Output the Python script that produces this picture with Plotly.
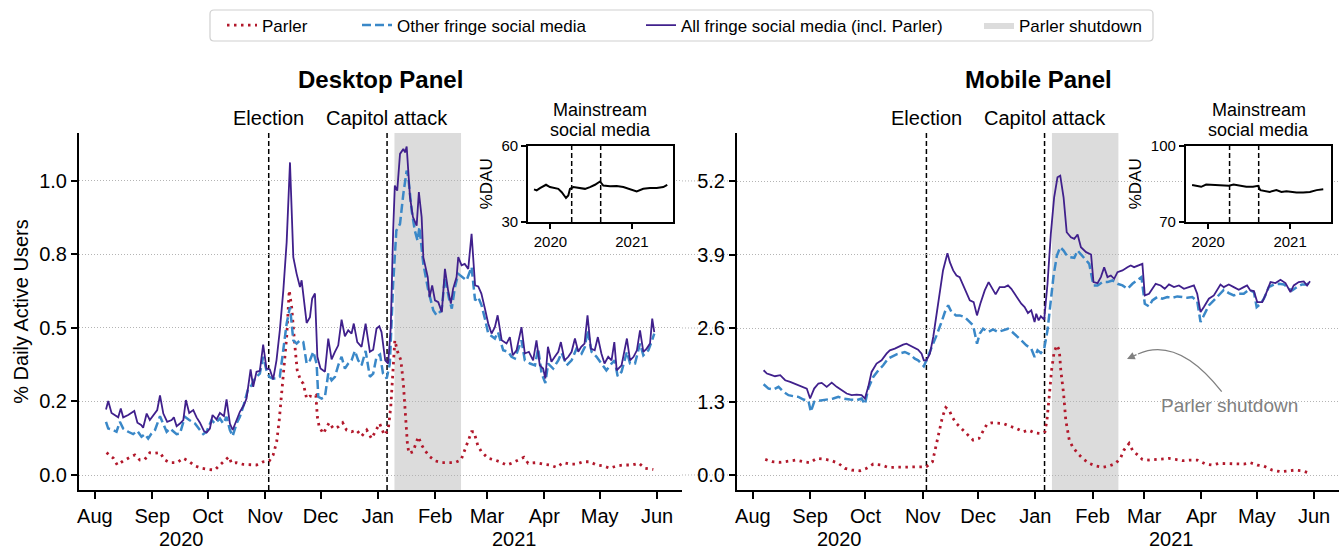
import plotly.graph_objects as go
import pandas as pd

W, H = 1339, 551
BASE = pd.Timestamp("2020-08-01")
FONT = "Liberation Sans, Arial, sans-serif"

# ---------------- data (x = days since 2020-08-01) ----------------
desk_parler_day = [6.3, 10, 12.1, 15.3, 18.6, 21.6, 24.3, 27, 29.7, 32.5, 35.2, 37.9, 40.6, 44.5, 47.8, 50.5,
                   54.1, 57.7, 61.3, 64.9, 67.6, 70.3, 72.5, 73.9, 76.6, 80.2, 83.8, 87.4, 91, 94.3, 96.4, 98.3,
                   99.7, 101, 102.2, 103.7, 105.1, 106.4, 108.2, 109.4, 111.2, 112.7, 114.5, 116.3, 118.1, 119.5,
                   120.3, 121.3, 123.5, 126.7, 128.9, 131.6, 134, 136.1, 138.8, 141.5, 144.2, 147, 149.6, 151.4,
                   154, 156.5, 158.6, 160, 161.3, 162.2, 163.7, 165.5, 166.8, 168, 169, 169.8, 172, 174.9, 176.7,
                   178.5, 181.2, 184, 187.6, 191, 194.7, 198, 199.7, 201.9, 203.7, 205, 207, 209, 212.7, 216.3,
                   219, 222.6, 225.3, 229, 232, 234.3, 238.8, 242.4, 246, 249.7, 253.3, 256.9, 260.5, 264, 267.7,
                   271.3, 274.9, 278.5, 282.2, 285.8, 290.3, 294.2, 297.5, 302]
desk_parler_val = [0.076, 0.057, 0.034, 0.048, 0.059, 0.068, 0.051, 0.053, 0.076, 0.074, 0.076, 0.051, 0.042,
                   0.042, 0.057, 0.048, 0.031, 0.023, 0.019, 0.017, 0.034, 0.048, 0.062, 0.040, 0.042, 0.036,
                   0.034, 0.034, 0.045, 0.048, 0.068, 0.113, 0.187, 0.288, 0.379, 0.469, 0.628, 0.571, 0.436,
                   0.356, 0.322, 0.311, 0.260, 0.268, 0.266, 0.271, 0.198, 0.164, 0.141, 0.178, 0.158, 0.164,
                   0.178, 0.153, 0.147, 0.153, 0.132, 0.153, 0.124, 0.147, 0.175, 0.136, 0.153, 0.232, 0.390,
                   0.458, 0.419, 0.390, 0.311, 0.209, 0.107, 0.074, 0.079, 0.130, 0.102, 0.083, 0.062, 0.048,
                   0.042, 0.042, 0.042, 0.051, 0.079, 0.113, 0.147, 0.147, 0.102, 0.079, 0.057, 0.051, 0.045,
                   0.034, 0.040, 0.051, 0.060, 0.040, 0.042, 0.037, 0.034, 0.026, 0.042, 0.037, 0.037, 0.045,
                   0.045, 0.034, 0.031, 0.023, 0.031, 0.034, 0.034, 0.040, 0.023, 0.019]

desk_other_day = [6, 7.2, 9.9, 11.7, 13.5, 15.3, 18, 20.7, 22.9, 25.2, 27, 28.8, 30.6, 32.5, 35.2, 37, 38.8, 40.6,
                  42.4, 44.2, 46, 48.7, 51, 54.1, 56.8, 58.6, 60.4, 63.1, 64.9, 67.6, 69.4, 71.2, 73, 74.5, 76.6,
                  78.4, 80.6, 82.9, 84.7, 86.5, 89.2, 91, 92.8, 94.3, 96.1, 98.2, 100, 101.9, 103.7, 105.5, 107.3,
                  109.1, 110.9, 112.7, 114.5, 116.3, 118.1, 119.9, 120.8, 122.6, 124.4, 126.2, 128, 129.8, 131.6,
                  133.4, 135.2, 137, 138.8, 140.6, 142.4, 144.2, 146.4, 148.7, 150.5, 152.3, 154.2, 155.8, 157.8,
                  159.5, 161.3, 163, 165, 166.8, 168.6, 169.5, 171.3, 173, 174.5, 175.5, 177.6, 180.3, 183, 184.8,
                  187.5, 189.3, 191.5, 193, 194.7, 196.5, 198.7, 201, 203.7, 205.6, 207.3, 209.1, 210.9, 212.7,
                  216.3, 218, 220.8, 223.5, 225.3, 227.1, 230.7, 232.5, 235.3, 238, 239.7, 241.6, 243.6, 245.1,
                  247.8, 250.6, 252.4, 255.1, 257.8, 260.5, 263.2, 265, 266.4, 268.6, 271.3, 273.9, 276.6, 279.4,
                  281.1, 282.7, 284.8, 287.7, 289.4, 292.1, 294.8, 296.6, 299.3, 301, 302.5]
desk_other_val = [0.181, 0.158, 0.153, 0.147, 0.181, 0.158, 0.147, 0.139, 0.150, 0.130, 0.139, 0.124, 0.141,
                  0.153, 0.200, 0.175, 0.147, 0.158, 0.147, 0.139, 0.141, 0.198, 0.187, 0.175, 0.153, 0.139,
                  0.147, 0.187, 0.175, 0.192, 0.175, 0.198, 0.153, 0.132, 0.175, 0.198, 0.241, 0.294, 0.305,
                  0.328, 0.345, 0.402, 0.356, 0.334, 0.328, 0.328, 0.334, 0.424, 0.515, 0.571, 0.458, 0.447,
                  0.458, 0.452, 0.379, 0.390, 0.419, 0.379, 0.266, 0.260, 0.266, 0.345, 0.322, 0.334, 0.373,
                  0.402, 0.362, 0.379, 0.390, 0.422, 0.390, 0.373, 0.422, 0.334, 0.345, 0.402, 0.410, 0.345,
                  0.328, 0.379, 0.650, 0.831, 0.854, 0.956, 1.035, 1.012, 0.899, 0.831, 0.797, 0.843, 0.718,
                  0.628, 0.560, 0.543, 0.560, 0.673, 0.600, 0.566, 0.639, 0.684, 0.673, 0.662, 0.707, 0.594,
                  0.605, 0.577, 0.532, 0.481, 0.464, 0.486, 0.424, 0.419, 0.402, 0.396, 0.458, 0.390, 0.379,
                  0.373, 0.430, 0.345, 0.313, 0.379, 0.362, 0.390, 0.415, 0.373, 0.390, 0.430, 0.413, 0.436,
                  0.492, 0.419, 0.402, 0.379, 0.356, 0.379, 0.390, 0.336, 0.351, 0.419, 0.379, 0.379, 0.447,
                  0.407, 0.424, 0.452, 0.481]

desk_all_day = [6, 7.2, 9, 10.8, 12.6, 14, 15.3, 18, 21.3, 23, 25, 26.1, 28, 29.7, 31.5, 33.7, 35.2, 37, 39.1,
                41.5, 42.7, 44.2, 46, 47.8, 49.2, 51, 53.2, 55, 56.8, 59, 60.4, 62.2, 63.6, 65.8, 67.6, 69.8,
                71.2, 73, 74.5, 76.6, 78.4, 80.6, 82, 84.2, 85.6, 87.4, 89.2, 91, 92.8, 94.6, 96.4, 98.2, 100,
                101.9, 103.7, 105.5, 107.3, 109.1, 110.9, 111.8, 113, 114.5, 116.3, 117.5, 119, 120.3, 122,
                124.4, 126.2, 128, 129.8, 131.6, 133.4, 135.2, 137, 138.8, 140, 141.9, 144.2, 146.4, 148.7,
                150.5, 152.3, 153.8, 155, 157, 158.6, 160, 161.3, 162.2, 163.5, 165, 166.8, 167.7, 168.6, 170.4,
                172, 174, 175.2, 176.7, 177.6, 180, 181, 182.4, 183.9, 185.7, 187.6, 189.3, 191, 192.5, 193.7,
                195.6, 196.5, 198.3, 200, 201.9, 203.7, 205.6, 207.3, 209, 210.9, 212.7, 214.5, 216.3, 217.8,
                220, 222.6, 224.4, 226, 228, 230.7, 232.5, 234.7, 237, 238.8, 240.6, 242.4, 243.6, 245, 246.9,
                248.7, 250.6, 252, 254, 256, 257.8, 259.6, 261.4, 263, 264.8, 266.4, 268.2, 270.3, 272, 273.9,
                275.6, 277.6, 279.4, 280.9, 282.2, 284.8, 287.7, 289.4, 291.3, 293.1, 294.8, 296.6, 298.4,
                300.2, 301.4, 302.5]
desk_all_val = [0.223, 0.252, 0.211, 0.204, 0.196, 0.226, 0.196, 0.204, 0.218, 0.178, 0.170, 0.161, 0.209,
                0.187, 0.204, 0.221, 0.271, 0.209, 0.181, 0.187, 0.196, 0.166, 0.175, 0.187, 0.255, 0.211,
                0.221, 0.196, 0.178, 0.149, 0.144, 0.158, 0.204, 0.189, 0.211, 0.200, 0.257, 0.175, 0.153,
                0.187, 0.215, 0.238, 0.260, 0.359, 0.300, 0.351, 0.354, 0.443, 0.362, 0.359, 0.325, 0.390,
                0.492, 0.628, 0.792, 1.063, 0.741, 0.684, 0.639, 0.662, 0.605, 0.517, 0.537, 0.600, 0.617,
                0.402, 0.362, 0.351, 0.464, 0.393, 0.419, 0.441, 0.528, 0.472, 0.492, 0.481, 0.515, 0.452,
                0.436, 0.515, 0.419, 0.426, 0.498, 0.506, 0.486, 0.390, 0.379, 0.503, 0.831, 0.984, 0.967,
                1.092, 1.109, 1.097, 1.117, 0.945, 0.877, 0.848, 0.962, 0.877, 0.741, 0.673, 0.605, 0.645,
                0.594, 0.588, 0.554, 0.701, 0.628, 0.583, 0.633, 0.673, 0.741, 0.713, 0.718, 0.701, 0.820,
                0.645, 0.641, 0.617, 0.566, 0.515, 0.481, 0.503, 0.543, 0.458, 0.447, 0.469, 0.407, 0.424,
                0.503, 0.413, 0.419, 0.390, 0.458, 0.373, 0.362, 0.328, 0.436, 0.385, 0.402, 0.419, 0.452,
                0.390, 0.402, 0.419, 0.464, 0.419, 0.436, 0.447, 0.543, 0.430, 0.424, 0.469, 0.413, 0.379,
                0.402, 0.390, 0.452, 0.356, 0.373, 0.464, 0.390, 0.402, 0.424, 0.492, 0.419, 0.430, 0.447,
                0.532, 0.486]

mob_parler_day = [6.7, 10.3, 14.8, 19.3, 23.4, 27.4, 31, 34.6, 38.6, 42.7, 46.3, 49.9, 53.5, 58, 61.6, 65.2,
                  69.7, 73.3, 77.8, 81.4, 85.9, 90, 94, 97.3, 99.1, 100.9, 102.7, 104.5, 106.3, 108.1, 110.3,
                  113.5, 116.6, 119.3, 122.5, 124.7, 126.8, 129.2, 132.3, 135.5, 139.1, 142.7, 146.3, 149.5,
                  152.4, 156, 158.2, 159.3, 160.5, 161.8, 163.2, 164.7, 166, 166.8, 168.3, 169.5, 171.4, 173.2,
                  175.9, 178.6, 182.2, 185.8, 189.4, 193, 196.6, 199.3, 201, 203.8, 205.6, 208.3, 211, 214.6,
                  218.2, 221.8, 225.4, 229, 232.6, 237.1, 240.7, 245.2, 248.8, 252.4, 256.9, 260.5, 265.9,
                  269.5, 273.2, 276.8, 281.3, 285.8, 289.4, 293.9, 297.5, 302]
mob_parler_val = [0.276, 0.235, 0.224, 0.247, 0.265, 0.235, 0.218, 0.294, 0.282, 0.253, 0.206, 0.118, 0.088,
                  0.076, 0.118, 0.194, 0.176, 0.135, 0.135, 0.135, 0.147, 0.135, 0.147, 0.235, 0.500, 0.765,
                  1.029, 1.194, 1.147, 1.018, 0.912, 0.806, 0.706, 0.618, 0.647, 0.765, 0.900, 0.923, 0.923,
                  0.912, 0.865, 0.824, 0.765, 0.794, 0.747, 0.735, 0.765, 0.970, 1.382, 1.853, 2.176, 2.294,
                  2.206, 1.853, 1.441, 0.970, 0.618, 0.500, 0.382, 0.294, 0.206, 0.159, 0.135, 0.159, 0.206,
                  0.312, 0.441, 0.559, 0.441, 0.353, 0.276, 0.265, 0.276, 0.276, 0.294, 0.276, 0.253, 0.265,
                  0.265, 0.194, 0.176, 0.206, 0.206, 0.206, 0.194, 0.218, 0.176, 0.159, 0.088, 0.059, 0.076,
                  0.088, 0.076, 0.029]

mob_other_day = [5.8, 8.5, 11.2, 13.9, 16.6, 19.3, 22, 24.7, 27.4, 30.1, 31.4, 33.2, 35.5, 38.2, 40.9, 43.6, 46.3,
                 49, 52.6, 56.2, 58.9, 60.7, 62.5, 65.2, 68, 70.6, 73.3, 75.1, 77.8, 80.5, 82.3, 85, 87.7, 89.5,
                 91.4, 92.6, 94, 95.9, 97.7, 99.5, 102.2, 104, 105.8, 107.6, 110, 112.1, 114.8, 117.5, 119.3,
                 121.4, 122.9, 124.7, 127.4, 130.1, 132.8, 135.5, 138.2, 140.5, 142.7, 145.4, 148.1, 150.8,
                 152.6, 154.2, 156, 157.8, 159.6, 161.4, 162.9, 164.7, 166.5, 168.3, 170.1, 171.9, 174.1, 175.9,
                 177.7, 180.5, 182.2, 184.5, 186.7, 189.4, 192.1, 194.8, 197.5, 200.2, 202.9, 205.6, 208.3,
                 210.5, 212.3, 214.6, 216.4, 219, 221.8, 224.5, 227.2, 229.9, 232.6, 235.3, 238, 240.7, 242.5,
                 244.3, 247, 249.7, 252.4, 255.1, 257.8, 260.5, 263.2, 265.9, 268.6, 271.4, 272.9, 275, 276.8,
                 279.5, 282.2, 285, 287.7, 290.4, 292.2, 294.7, 297.5, 300.2, 301.8]
mob_other_val = [1.606, 1.529, 1.512, 1.559, 1.471, 1.412, 1.394, 1.382, 1.335, 1.312, 1.118, 1.294, 1.312,
                 1.324, 1.335, 1.353, 1.382, 1.353, 1.335, 1.324, 1.353, 1.253, 1.529, 1.735, 1.853, 1.941,
                 2.059, 2.088, 2.135, 2.159, 2.176, 2.135, 2.059, 2.029, 1.971, 1.924, 2.029, 2.176, 2.323,
                 2.470, 2.706, 2.882, 3.000, 2.882, 2.823, 2.823, 2.794, 2.706, 2.647, 2.323, 2.500, 2.588,
                 2.529, 2.576, 2.529, 2.559, 2.588, 2.529, 2.470, 2.382, 2.294, 2.235, 2.088, 2.206, 2.159,
                 2.235, 2.559, 3.088, 3.529, 3.882, 4.029, 3.970, 3.882, 3.853, 3.841, 3.970, 3.900, 3.794,
                 3.735, 3.353, 3.353, 3.412, 3.412, 3.441, 3.382, 3.353, 3.294, 3.382, 3.441, 3.500, 3.029,
                 2.982, 3.088, 3.147, 3.118, 3.147, 3.135, 3.159, 3.147, 3.135, 3.147, 3.076, 2.706, 2.823,
                 3.000, 3.088, 3.176, 3.276, 3.218, 3.176, 3.206, 3.206, 3.276, 3.235, 2.971, 3.029, 3.118,
                 3.323, 3.370, 3.382, 3.370, 3.294, 3.265, 3.323, 3.370, 3.370, 3.412]

mob_all_day = [5.8, 7.6, 9.4, 12, 14.8, 17.5, 20.2, 22.3, 24.7, 27.4, 29.2, 31, 33.2, 35.5, 37.3, 40, 42.7, 45.4,
               48.1, 50.8, 53.5, 56.2, 58.9, 60.7, 62.5, 64.3, 67, 69.7, 72.4, 74.2, 76.9, 78.7, 81.4, 83.2, 85,
               86.8, 89.5, 91.4, 92.6, 94, 95.9, 97.7, 99.5, 101.3, 103, 105.4, 106.7, 108.5, 110.3, 112, 113.9,
               115.7, 117.5, 119.6, 121.4, 123.2, 125.6, 127.7, 130, 131.5, 133.7, 136.4, 138.2, 140, 141.8,
               143.6, 145.4, 147.2, 149, 150.8, 152.6, 153.5, 154.8, 156, 157.8, 159.6, 161.4, 163.2, 165, 166.5,
               168.3, 170, 172.3, 174.1, 175.9, 177.7, 180.5, 183.2, 184.5, 186.7, 188.5, 190.3, 192.1, 193.9,
               195.7, 197.5, 200.2, 202.9, 204.7, 206.5, 209.2, 211, 212.3, 214.6, 216.4, 218.2, 220.9, 223.1,
               225.4, 228.1, 230.8, 233.5, 236.2, 238.9, 240.7, 242.5, 244.3, 247, 249.7, 251.5, 253.3, 255.1,
               257.8, 260.5, 263.2, 265.9, 267.7, 269.5, 271.4, 273.2, 275.9, 277.6, 280.4, 283.1, 285.8, 288.5,
               291.2, 293, 295.7, 298.4, 300.2, 301.8]
mob_all_val = [1.853, 1.794, 1.776, 1.747, 1.765, 1.676, 1.647, 1.618, 1.588, 1.559, 1.529, 1.353, 1.529, 1.618,
               1.629, 1.559, 1.635, 1.559, 1.500, 1.441, 1.412, 1.423, 1.412, 1.353, 1.559, 1.823, 1.971, 2.029,
               2.147, 2.206, 2.235, 2.265, 2.306, 2.323, 2.294, 2.265, 2.218, 2.147, 2.029, 2.029, 2.147, 2.441,
               2.853, 3.265, 3.618, 3.923, 3.765, 3.618, 3.529, 3.500, 3.353, 3.206, 3.088, 3.059, 2.823, 3.029,
               3.265, 3.412, 3.265, 3.194, 3.323, 3.323, 3.353, 3.294, 3.206, 3.118, 3.029, 2.971, 2.865, 2.912,
               2.706, 2.853, 2.735, 2.806, 2.747, 3.382, 4.265, 4.912, 5.265, 5.294, 4.912, 4.294, 4.206, 4.176,
               4.253, 4.029, 3.941, 3.900, 3.412, 3.394, 3.500, 3.676, 3.500, 3.529, 3.470, 3.588, 3.618, 3.676,
               3.706, 3.676, 3.706, 3.735, 3.176, 3.206, 3.294, 3.382, 3.353, 3.294, 3.370, 3.323, 3.353, 3.294,
               3.323, 3.353, 3.206, 2.882, 2.971, 3.118, 3.176, 3.265, 3.370, 3.323, 3.370, 3.323, 3.276, 3.323,
               3.353, 3.265, 3.253, 3.059, 3.059, 3.176, 3.412, 3.394, 3.453, 3.394, 3.235, 3.353, 3.412, 3.423,
               3.353, 3.429]

inset_desk_day = [10.8, 16.7, 24, 37.3, 46, 57, 64.4, 72, 77, 81.4, 86.5, 90.2, 97.6, 112.3, 123.4, 134.4, 145.4,
                  156.5, 163.8, 178.5, 193.3, 208, 222.7, 237.5, 252, 266.8, 281.6, 296.2, 305]
inset_desk_val = [42.8, 42.4, 43.3, 44.6, 43.7, 43.3, 43.0, 41.7, 40.2, 39.4, 40.4, 43.0, 43.7, 43.3, 43.0, 43.7,
                  44.6, 45.9, 44.3, 44.0, 44.1, 43.7, 42.8, 42.0, 43.0, 43.3, 43.3, 43.7, 44.6]
inset_mob_day = [11.6, 21.9, 31.5, 42.5, 57.2, 79.3, 92.5, 102.8, 116, 130.8, 145.5, 156.5, 161.7, 171.3, 182.3,
                 197, 208, 219, 230, 241.2, 255.8, 270.6, 285.4, 300]
inset_mob_val = [84.5, 84.2, 83.8, 84.7, 84.5, 84.2, 84.2, 84.7, 84.2, 83.8, 83.8, 84.2, 82.5, 82.1, 81.8, 82.5,
                 81.8, 82.1, 81.8, 81.6, 81.6, 81.8, 82.5, 82.8]

month_ticks = ["2020-08-01", "2020-09-01", "2020-10-01", "2020-11-01", "2020-12-01", "2021-01-01",
               "2021-02-01", "2021-03-01", "2021-04-01", "2021-05-01", "2021-06-01"]
month_labels = ["Aug", "Sep", "Oct", "Nov", "Dec", "Jan", "Feb", "Mar", "Apr", "May", "Jun"]
year_dates = ["2020-09-17", "2021-03-16"]
year_labels = ["2020", "2021"]
event_dates = ["2020-11-03", "2021-01-06"]
event_labels = ["Election", "Capitol attack"]
shutdown_start, shutdown_end = "2021-01-10", "2021-02-15"
desk_yticks = [0, 0.25, 0.5, 0.75, 1.0]
desk_yticklabels = ["0.0", "0.2", "0.5", "0.8", "1.0"]
mob_yticks = [0, 1.3, 2.6, 3.9, 5.2]
mob_yticklabels = ["0.0", "1.3", "2.6", "3.9", "5.2"]
desk_inset_yticks = [30, 60]
mob_inset_yticks = [70, 100]

# ---------------- helpers ----------------
def dates(days):
    return [BASE + pd.Timedelta(days=d) for d in days]

def PX(p):
    return p / W

def PY(p):
    return 1 - p / H

RED = "#b2182b"
BLUE = "#3a88c8"
PURPLE = "#40208c"
SHADE = "#dcdcdc"
GRID = "#b4b4b4"

main_range = [BASE + pd.Timedelta(days=-8.6), BASE + pd.Timedelta(days=317.5)]
inset_range = [BASE + pd.Timedelta(days=-1.8), BASE + pd.Timedelta(days=317)]

fig = go.Figure()

panels = [
    ("x", "y", True, desk_parler_day, desk_parler_val, desk_other_day, desk_other_val, desk_all_day, desk_all_val),
    ("x2", "y2", False, mob_parler_day, mob_parler_val, mob_other_day, mob_other_val, mob_all_day, mob_all_val),
]
for xa, ya, show, pd_, pv, od, ov, ad, av in panels:
    fig.add_trace(go.Scatter(x=dates(pd_), y=pv, mode="lines", name="Parler", legend="legend",
                             showlegend=show, xaxis=xa, yaxis=ya, hoverinfo="skip",
                             line=dict(color=RED, width=2.8, dash="2.5px,4.5px")))
    fig.add_trace(go.Scatter(x=dates(od), y=ov, mode="lines", name="Other fringe social media",
                             legend="legend2", showlegend=show, xaxis=xa, yaxis=ya, hoverinfo="skip",
                             line=dict(color=BLUE, width=2.5, dash="9px,4px")))
    fig.add_trace(go.Scatter(x=dates(ad), y=av, mode="lines", name="All fringe social media (incl. Parler)",
                             legend="legend3", showlegend=show, xaxis=xa, yaxis=ya, hoverinfo="skip",
                             line=dict(color=PURPLE, width=1.8)))

# legend-only entry for the shaded period
fig.add_trace(go.Scatter(x=[None], y=[None], mode="lines", fill="toself", fillcolor=SHADE,
                         line=dict(width=0, color=SHADE), name="Parler shutdown", legend="legend4",
                         xaxis="x", yaxis="y", hoverinfo="skip"))

# insets
fig.add_trace(go.Scatter(x=dates(inset_desk_day), y=inset_desk_val, mode="lines", showlegend=False,
                         xaxis="x3", yaxis="y3", hoverinfo="skip", line=dict(color="black", width=2)))
fig.add_trace(go.Scatter(x=dates(inset_mob_day), y=inset_mob_val, mode="lines", showlegend=False,
                         xaxis="x4", yaxis="y4", hoverinfo="skip", line=dict(color="black", width=2)))

# ---------------- axes ----------------
tickfont = dict(family=FONT, size=20, color="black")
main_x = dict(type="date", range=main_range, tickvals=month_ticks, ticktext=month_labels,
              ticks="outside", ticklen=7, tickwidth=1.5, tickcolor="black", showline=True,
              linewidth=2, linecolor="black", showgrid=False, zeroline=False, tickfont=tickfont,
              automargin=False)
main_y = dict(ticks="outside", ticklen=6, tickwidth=1.5, tickcolor="black", showline=True,
              linewidth=2, linecolor="black", showgrid=True, gridcolor=GRID, griddash="1px,2px",
              gridwidth=1, zeroline=False, tickfont=tickfont, automargin=False)
inset_x = dict(type="date", range=inset_range, tickvals=year_dates, ticktext=year_labels,
               ticks="outside", ticklen=5, tickwidth=1.5, tickcolor="black", showline=True, mirror=True,
               linewidth=2.2, linecolor="black", showgrid=False, zeroline=False, automargin=False,
               tickfont=dict(family=FONT, size=15, color="black"))
inset_y = dict(ticks="outside", ticklen=5, tickwidth=1.5, tickcolor="black", showline=True, mirror=True,
               linewidth=2.2, linecolor="black", showgrid=False, zeroline=False, automargin=False,
               tickfont=dict(family=FONT, size=15, color="black"))

ydom = [PY(490), PY(133)]
inset_ydom = [PY(222), PY(145.5)]

fig.update_layout(
    template="none",
    width=W, height=H, margin=dict(l=0, r=0, t=0, b=0, pad=0, autoexpand=False),
    paper_bgcolor="white", plot_bgcolor="white",
    font=dict(family=FONT, color="black"),
    xaxis=dict(main_x, domain=[PX(79), PX(682)], anchor="y"),
    yaxis=dict(main_y, domain=ydom, anchor="x", range=[-0.051, 1.163], tickvals=desk_yticks,
               ticktext=desk_yticklabels,
               title=dict(text="% Daily Active Users", font=dict(family=FONT, size=20), standoff=5)),
    xaxis2=dict(main_x, domain=[PX(737), PX(1339)], anchor="y2"),
    yaxis2=dict(main_y, domain=ydom, anchor="x2", range=[-0.265, 6.049], tickvals=mob_yticks,
                ticktext=mob_yticklabels),
    xaxis3=dict(inset_x, domain=[PX(528.3), PX(672.7)], anchor="y3"),
    yaxis3=dict(inset_y, domain=inset_ydom, anchor="x3", range=[30, 60], tickvals=desk_inset_yticks,
                title=dict(text="%DAU", font=dict(family=FONT, size=17), standoff=5)),
    xaxis4=dict(inset_x, domain=[PX(1186), PX(1331)], anchor="y4"),
    yaxis4=dict(inset_y, domain=inset_ydom, anchor="x4", range=[70, 100], tickvals=mob_inset_yticks,
                title=dict(text="%DAU", font=dict(family=FONT, size=17), standoff=5)),
)

# legends (four, placed along one framed row)
legend_text_px = [265, 400, 684, 1022]
for i, tx in enumerate(legend_text_px, start=1):
    key = "legend" if i == 1 else f"legend{i}"
    fig.update_layout({key: dict(x=PX(tx - 43), y=PY(25.5), xanchor="left", yanchor="middle",
                                 orientation="h", bgcolor="rgba(0,0,0,0)", borderwidth=0,
                                 font=dict(family=FONT, size=17, color="black"))})

shapes = []
# legend frame (rounded)
x0, x1, y0, y1 = 210, 1153, 10, 41
r = 4
frame = (f"M {PX(x0 + r)},{PY(y0)} L {PX(x1 - r)},{PY(y0)} Q {PX(x1)},{PY(y0)} {PX(x1)},{PY(y0 + r)} "
         f"L {PX(x1)},{PY(y1 - r)} Q {PX(x1)},{PY(y1)} {PX(x1 - r)},{PY(y1)} "
         f"L {PX(x0 + r)},{PY(y1)} Q {PX(x0)},{PY(y1)} {PX(x0)},{PY(y1 - r)} "
         f"L {PX(x0)},{PY(y0 + r)} Q {PX(x0)},{PY(y0)} {PX(x0 + r)},{PY(y0)} Z")
shapes.append(dict(type="path", path=frame, xref="paper", yref="paper", line=dict(color="#d0d0d0", width=1.2),
                   fillcolor="white", layer="below"))

for xa, ya in [("x", "y"), ("x2", "y2")]:
    shapes.append(dict(type="rect", xref=xa, yref=f"{ya} domain", x0=shutdown_start, x1=shutdown_end,
                       y0=0, y1=1, fillcolor=SHADE, line=dict(width=0), layer="below"))
    for d in event_dates:
        shapes.append(dict(type="line", xref=xa, yref=f"{ya} domain", x0=d, x1=d, y0=0, y1=1,
                           line=dict(color="black", width=1.5, dash="5px,3px"), layer="below"))

# gridlines continuing through the gap between the panels
for v in desk_yticks:
    shapes.append(dict(type="line", xref="paper", yref="y", x0=PX(682), x1=PX(737), y0=v, y1=v,
                       line=dict(color=GRID, width=1, dash="1px,2px"), layer="below"))

# inset white backgrounds + event lines
for xa, ya, yr in [("x3", "y3", [30, 60]), ("x4", "y4", [70, 100])]:
    shapes.append(dict(type="rect", xref=xa, yref=ya, x0=inset_range[0], x1=inset_range[1],
                       y0=yr[0], y1=yr[1], fillcolor="white", line=dict(width=0), layer="below"))
    for d in event_dates:
        shapes.append(dict(type="line", xref=xa, yref=f"{ya} domain", x0=d, x1=d, y0=0, y1=1,
                           line=dict(color="black", width=1.5, dash="5px,3px"), layer="above"))

# curved arrow for "Parler shutdown"
curve = f"M {PX(1221.7)},{PY(391.7)} Q {PX(1178)},{PY(336)} {PX(1138)},{PY(354)}"
shapes.append(dict(type="path", path=curve, xref="paper", yref="paper",
                   line=dict(color="#808080", width=1.3), layer="above"))

fig.update_layout(shapes=shapes)

def label(text, x, y, size, xref="paper", color="black"):
    return dict(text=text, x=x, y=y, xref=xref, yref="paper", showarrow=False,
                xanchor="center", yanchor="middle", font=dict(family=FONT, size=size, color=color))

ann = []
ann.append(label("<b>Desktop Panel</b>", PX(380), PY(80), 24))
ann.append(label("<b>Mobile Panel</b>", PX(1038), PY(80), 24))
for xa in ["x", "x2"]:
    for d, t in zip(event_dates, event_labels):
        ann.append(label(t, d, PY(118), 20, xref=xa))
    for d, t in zip(year_dates, year_labels):
        ann.append(label(t, d, PY(539), 20, xref=xa))
for cx in [600.3, 1258.5]:
    ann.append(label("Mainstream", PX(cx), PY(110), 18))
    ann.append(label("social media", PX(cx), PY(130), 18))
ann.append(label("Parler shutdown", PX(1229), PY(405), 19, color="#808080"))
ann.append(dict(text="", x=PX(1127), y=PY(359), xref="paper", yref="paper", showarrow=True,
                ax=11, ay=-5, arrowhead=2, arrowsize=1.2, arrowwidth=1.3, arrowcolor="#808080", standoff=0))
fig.update_layout(annotations=ann)

fig.write_html("out.html", config={"displayModeBar": False},
               post_script="document.body.style.margin='0px';")
